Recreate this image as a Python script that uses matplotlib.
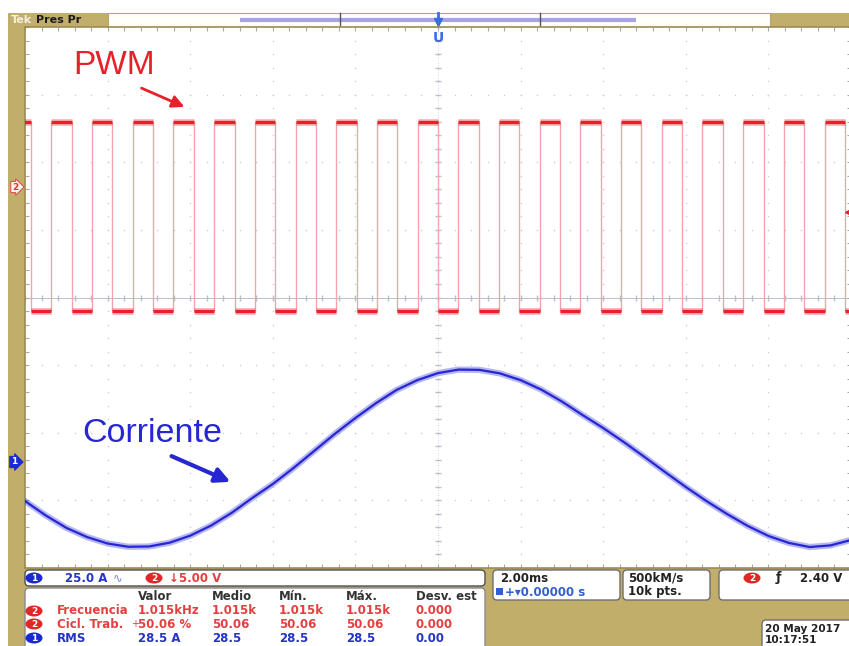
import numpy as np
import matplotlib
matplotlib.use("Agg")
import matplotlib.pyplot as plt
from matplotlib.patches import Rectangle, FancyBboxPatch, Ellipse

# Scope settings shown on screen
time_per_div_ms = 2.0
pwm_freq_khz = 1.015
pwm_duty_pct = 50.06
pwm_low_div = 3.8
pwm_high_div = 6.6
ch1_marker_div = 1.57
ch1_amps_per_div = 25.0

# Motor current samples (0.5 ms apart, trigger at t = 0)
current_t_ms = [-10.0, -9.5, -9.0, -8.5, -8.0, -7.5, -7.0, -6.5, -6.0, -5.5,
                -5.0, -4.5, -4.0, -3.5, -3.0, -2.5, -2.0, -1.5, -1.0, -0.5,
                0.0, 0.5, 1.0, 1.5, 2.0, 2.5, 3.0, 3.5, 4.0, 4.5,
                5.0, 5.5, 6.0, 6.5, 7.0, 7.5, 8.0, 8.5, 9.0, 9.5, 10.0]
current_a = [-14.5, -19.8, -24.4, -27.8, -30.2, -31.4, -31.3, -29.9, -27.3, -23.6,
             -18.9, -13.4, -8.2, -2.3, 4.0, 10.3, 16.2, 21.7, 26.6, 30.2,
             32.8, 34.1, 34.0, 32.7, 30.2, 26.7, 22.3, 17.3, 12.5, 7.3,
             1.8, -3.8, -9.3, -14.5, -19.3, -23.7, -27.4, -30.0, -31.5, -30.9, -28.9]

# Measurement readout
meas_header = ["Valor", "Medio", "Mín.", "Máx.", "Desv. est"]
meas_channels = ["2", "2", "1"]
meas_names = ["Frecuencia", "Cicl. Trab.", "RMS"]
meas_values = [
    ["1.015kHz", "1.015k", "1.015k", "1.015k", "0.000"],
    ["50.06 %", "50.06", "50.06", "50.06", "0.000"],
    ["28.5 A", "28.5", "28.5", "28.5", "0.00"],
]

OLIVE = "#c2ae6b"
RED = "#e8202a"
BLUE = "#2626d2"
MEAS_RED = "#e24040"
MEAS_BLUE = "#2434c4"
UI_FONT = "DejaVu Sans"

W, H = 849, 646
fig = plt.figure(figsize=(W / 100, H / 100), dpi=100)

# pixel-space layer behind the graticule
bg = fig.add_axes([0, 0, 1, 1], zorder=0)
bg.set_xlim(0, W)
bg.set_ylim(H, 0)
bg.axis("off")


def badge(ax, x, y, num, color):
    ax.add_patch(Ellipse((x, y), 17, 11, fc=color, ec="none", zorder=5))
    ax.text(x, y + 0.5, num, color="white", fontsize=6.5, fontweight="bold",
            ha="center", va="center", family=UI_FONT, zorder=6)


def box(ax, x, y, w, h, fc="white", ec="#6e6e6e"):
    ax.add_patch(FancyBboxPatch((x, y), w, h, boxstyle="round,pad=0,rounding_size=4",
                                fc=fc, ec=ec, lw=1, zorder=3))


def ui_text(x, y, s, color="#222222", size=8.5):
    bg.text(x, y, s, color=color, fontsize=size, fontweight="bold", va="center", family=UI_FONT)


# olive frame
bg.add_patch(Rectangle((8, 13), 17, H - 13, fc=OLIVE, ec="none"))
bg.add_patch(Rectangle((8, 566), W - 8, H - 566, fc=OLIVE, ec="none"))
bg.add_patch(Rectangle((8, 13), 100, 14, fc=OLIVE, ec="none"))
bg.add_patch(Rectangle((770, 13), W - 770, 14, fc=OLIVE, ec="none"))
bg.add_patch(Rectangle((108, 13), 662, 14, fc="#fffef8", ec="#b8a868", lw=0.8))
ui_text(11, 20, "Tek", color="#f4f0e0", size=8)
ui_text(36, 20, "Pres Pr", color="#1a1a1a", size=8)
bg.plot([240, 636], [19.5, 19.5], color="#a9a3e6", lw=3, solid_capstyle="butt")
for xp in (340, 540):
    bg.plot([xp, xp], [13, 26], color="#555555", lw=1)
bg.plot([438, 438], [13, 20], color="#3a6ee0", lw=2)
bg.plot(438, 22, marker="v", color="#3a6ee0", ms=6)

# bottom readouts
box(bg, 25, 570, 460, 16, ec="#505050")
badge(bg, 34, 578, "1", "#1a2ad0")
ui_text(65, 578, "25.0 A", color=MEAS_BLUE)
bg.text(113, 578, "∿", color="#7080e0", fontsize=8.5, va="center", family=UI_FONT)
badge(bg, 154, 578, "2", "#e02828")
ui_text(169, 578, "↓5.00 V", color=MEAS_RED)

box(bg, 25, 588, 460, 70, ec="#8a8a8a")
col_x = [138, 212, 279, 346, 416]
for cx, head in zip(col_x, meas_header):
    ui_text(cx, 597, head, color="#333333")
row_y = [611, 624, 638]
for ry, ch, name, vals in zip(row_y, meas_channels, meas_names, meas_values):
    col = MEAS_RED if ch == "2" else MEAS_BLUE
    badge(bg, 34, ry, ch, "#e02828" if ch == "2" else "#1a2ad0")
    ui_text(57, ry, name, color=col)
    for cx, v in zip(col_x, vals):
        ui_text(cx, ry, v, color=col)
bg.text(131, 624, "+", color=MEAS_RED, fontsize=7, va="center", family=UI_FONT)

box(bg, 493, 570, 127, 30)
ui_text(500, 578, "2.00ms")
bg.add_patch(Rectangle((496, 588), 7, 7, fc="#3060d0", ec="none", zorder=5))
ui_text(505, 592, "+▾0.00000 s", color="#3060d0")
box(bg, 623, 570, 87, 30)
ui_text(628, 578, "500kM/s")
ui_text(628, 591, "10k pts.")
box(bg, 719, 570, 140, 30)
badge(bg, 752, 578, "2", "#e02828")
ui_text(776, 578, "ƒ", size=9)
ui_text(800, 578, "2.40 V")
box(bg, 762, 620, 100, 40)
ui_text(765, 629, "20 May 2017", size=7.6)
ui_text(765, 640, "10:17:51", size=7.6)

# graticule: 10 x 8 divisions, time in ms
ax = fig.add_axes([25 / W, 1 - 568 / H, 826 / W, 541 / H], zorder=1)
ax.set_facecolor("white")
half_span = 5 * time_per_div_ms
ax.set_xlim(-half_span, half_span)
ax.set_ylim(0, 8)
for s in ax.spines.values():
    s.set_color("#9c8c52")
    s.set_linewidth(1.2)
ax.set_xticks(np.arange(-half_span, half_span + 0.01, time_per_div_ms / 5))
ax.set_yticks(np.arange(0, 8.01, 0.2))
ax.tick_params(direction="in", length=3, width=0.8, color="#a8a8a8",
               top=True, right=True, labelbottom=False, labelleft=False)

sub_x = np.arange(-half_span, half_span + 0.01, time_per_div_ms / 5)
sub_y = np.arange(0, 8.01, 0.2)
for gx in np.arange(-half_span + time_per_div_ms, half_span, time_per_div_ms):
    ax.scatter(np.full_like(sub_y, gx), sub_y, s=1.2, color="#cccccc", lw=0, zorder=1)
for gy in range(1, 8):
    ax.scatter(sub_x, np.full_like(sub_x, gy), s=1.2, color="#cccccc", lw=0, zorder=1)
ax.axhline(4, color="#b8bfcc", lw=0.7, zorder=1)
ax.plot(sub_x, np.full_like(sub_x, 4), "|", ms=4, color="#b8bfcc", zorder=1)
ax.axvline(0, color="#c4c8d2", lw=0.6, ls=(0, (1, 2)), zorder=1)
ax.plot(np.zeros_like(sub_y), sub_y, "_", ms=4, color="#b8bfcc", zorder=1)

# PWM square wave, falling edge at the trigger point
period = 1 / pwm_freq_khz
t_high = pwm_duty_pct / 100 * period
falls = np.arange(-12, 13) * period
rises = falls - t_high
ax.vlines(np.concatenate([rises, falls]), pwm_low_div, pwm_high_div,
          color="#f2a4ac", lw=1, zorder=2)
high_y = np.full_like(falls, pwm_high_div)
low_y = np.full_like(falls, pwm_low_div)
for lw, a in ((5, 0.3), (2.4, 1.0)):
    ax.hlines(high_y, rises, falls, color=RED, lw=lw, alpha=a, zorder=3)
    ax.hlines(low_y, falls, falls + period - t_high, color=RED, lw=lw, alpha=a, zorder=3)

# channel 1 current trace
cur_div = ch1_marker_div + np.array(current_a) / ch1_amps_per_div
ax.plot(current_t_ms, cur_div, color="#4a4ae2", lw=4.5, alpha=0.4, zorder=3)
ax.plot(current_t_ms, cur_div, color=BLUE, lw=1.6, zorder=4)

# labels and markers on top
fg = fig.add_axes([0, 0, 1, 1], zorder=2)
fg.set_xlim(0, W)
fg.set_ylim(H, 0)
fg.axis("off")
fg.patch.set_alpha(0)

fg.text(114, 66, "PWM", color=RED, fontsize=24, family="Liberation Sans", ha="center", va="center")
fg.annotate("", xy=(187, 108), xytext=(139, 87),
            arrowprops=dict(arrowstyle="-|>", color=RED, lw=2, mutation_scale=18))
fg.text(152, 433, "Corriente", color=BLUE, fontsize=24.5, family="Liberation Sans", ha="center", va="center")
fg.annotate("", xy=(233, 483), xytext=(169, 455),
            arrowprops=dict(arrowstyle="-|>", color=BLUE, lw=3, mutation_scale=22))

fg.text(15, 187, "2", color="#e03030", fontsize=6.5, fontweight="bold", ha="center", va="center",
        family=UI_FONT, bbox=dict(boxstyle="rarrow,pad=0.12", fc="#fff2f2", ec="#e05050", lw=0.8))
fg.text(14, 462, "1", color="white", fontsize=6.5, fontweight="bold", ha="center", va="center",
        family=UI_FONT, bbox=dict(boxstyle="rarrow,pad=0.12", fc="#1a2ad0", ec="#1a2ad0", lw=0.8))
fg.plot(851, 212, marker="<", color=RED, ms=9, clip_on=False)
fg.text(438, 38, "U", color="#3a6ee0", fontsize=10, fontweight="bold", ha="center", va="center",
        family=UI_FONT)

fig.savefig("out.png", dpi=100)
